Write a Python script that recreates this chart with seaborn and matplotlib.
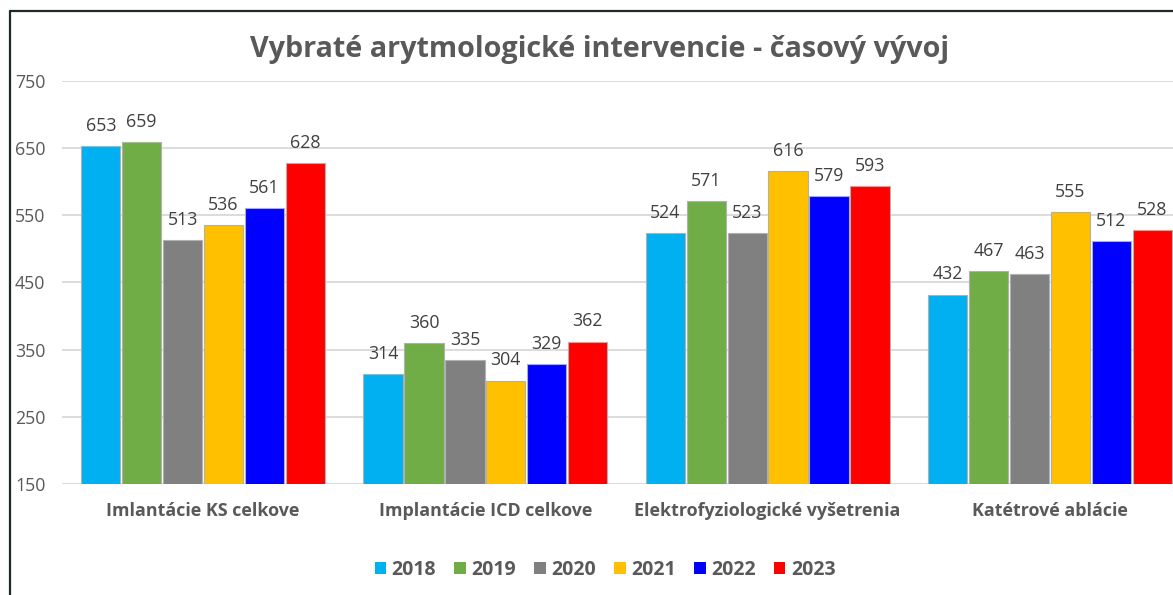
import matplotlib
matplotlib.use("Agg")
import matplotlib.pyplot as plt
import seaborn as sns
import pandas as pd
from matplotlib.lines import Line2D
from matplotlib.patches import Patch

categories = ["Imlantácie KS celkove", "Implantácie ICD celkove",
              "Elektrofyziologické vyšetrenia", "Katétrové ablácie"]
years = ["2018", "2019", "2020", "2021", "2022", "2023"]
v2018 = [653, 314, 524, 432]
v2019 = [659, 360, 571, 467]
v2020 = [513, 335, 523, 463]
v2021 = [536, 304, 616, 555]
v2022 = [561, 329, 579, 512]
v2023 = [628, 362, 593, 528]
yticks = [150, 250, 350, 450, 550, 650, 750]
title = "Vybraté arytmologické intervencie - časový vývoj"
colors = ["#00B0F0", "#70AD47", "#808080", "#FFC000", "#0000FF", "#FF0000"]

series = [v2018, v2019, v2020, v2021, v2022, v2023]
rows = []
for y, vals in zip(years, series):
    for c, v in zip(categories, vals):
        rows.append({"cat": c, "year": y, "value": v})
df = pd.DataFrame(rows)

sns.set_theme(style="white")
plt.rcParams["font.family"] = ["Open Sans", "DejaVu Sans"]

W, H = 1173, 595
fig = plt.figure(figsize=(W / 100, H / 100), dpi=100)
ax = fig.add_axes([62 / W, (H - 484) / H, (1191 - 62) / W, 403 / H])

sns.barplot(data=df, x="cat", y="value", hue="year", order=categories,
            hue_order=years, palette=colors, width=0.87, gap=0.04,
            edgecolor="#b0b0b0", linewidth=0.8, saturation=1, ax=ax,
            legend=False, errorbar=None)

for cont in ax.containers:
    ax.bar_label(cont, padding=8, fontsize=12.8, color="#404040")

ax.set_ylim(150, 750)
ax.set_yticks(yticks)
ax.set_xlim(-0.5, 3.5)
ax.grid(axis="y", color="#d9d9d9", linewidth=1.3)
ax.set_axisbelow(True)
for s in ax.spines.values():
    s.set_visible(False)
ax.set_xlabel("")
ax.set_ylabel("")
ax.tick_params(axis="y", length=0, pad=12, labelsize=12.8, labelcolor="#595959")
ax.tick_params(axis="x", length=0, pad=13, labelsize=12.9, labelcolor="#595959")
for lab in ax.get_xticklabels():
    lab.set_fontweight("bold")

fig.text(600 / W, 1 - 50 / H, title, ha="center", va="center",
         fontsize=20.7, fontweight="bold", color="#595959")

handles = [Patch(facecolor=c, edgecolor="none") for c in colors]
leg = fig.legend(handles, years, loc="center", bbox_to_anchor=(605 / W, 1 - 570 / H),
                 ncol=6, frameon=False, handlelength=0.6, handleheight=0.6,
                 handletextpad=0.28, columnspacing=0.93,
                 prop={"weight": "bold", "size": 14})
for t in leg.get_texts():
    t.set_color("#595959")

fig.add_artist(Line2D([10 / W, 1], [1 - 11 / H, 1 - 11 / H], transform=fig.transFigure,
                      color="#1e2a2a", linewidth=1.6))
fig.add_artist(Line2D([10 / W, 10 / W], [0, 1 - 11 / H], transform=fig.transFigure,
                      color="#1e2a2a", linewidth=1.6))

fig.savefig("out.png", dpi=100)
